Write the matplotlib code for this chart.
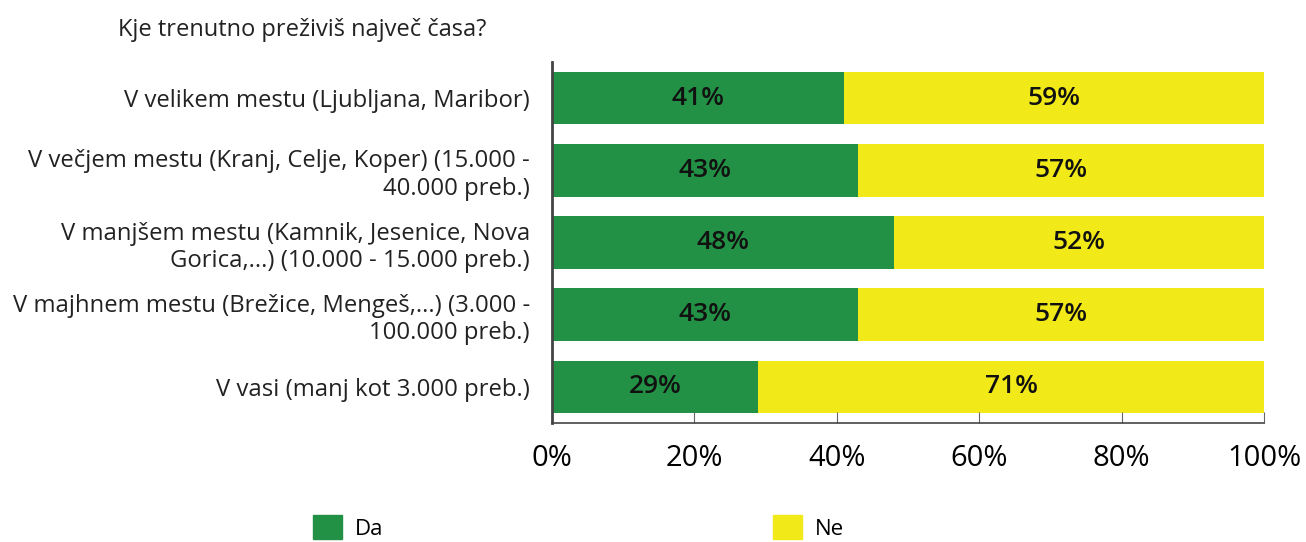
import matplotlib
matplotlib.use("Agg")
import matplotlib.pyplot as plt
from matplotlib.patches import Patch

plt.rcParams['font.family'] = ['Open Sans', 'DejaVu Sans']

# data
categories = [
    "V velikem mestu (Ljubljana, Maribor)",
    "V večjem mestu (Kranj, Celje, Koper) (15.000 -\n40.000 preb.)",
    "V manjšem mestu (Kamnik, Jesenice, Nova\nGorica,...) (10.000 - 15.000 preb.)",
    "V majhnem mestu (Brežice, Mengeš,...) (3.000 -\n100.000 preb.)",
    "V vasi (manj kot 3.000 preb.)",
]
da = [41, 43, 48, 43, 29]
ne = [59, 57, 52, 57, 71]
series_names = ["Da", "Ne"]
title = "Kje trenutno preživiš največ časa?"

green = "#239145"
yellow = "#F2EA18"

fig = plt.figure(figsize=(13.06, 5.42), dpi=100)
ax = fig.add_axes([552/1306, 1-423/542, (1264-552)/1306, (423-62)/542])

y = list(range(len(categories)))
ax.barh(y, da, height=0.73, color=green)
ax.barh(y, ne, left=da, height=0.73, color=yellow)

for i in y:
    ax.text(da[i]/2, i, f"{da[i]}%", ha='center', va='center',
            fontsize=19, fontweight='semibold', color='#111111')
    ax.text(da[i] + ne[i]/2, i, f"{ne[i]}%", ha='center', va='center',
            fontsize=19, fontweight='semibold', color='#111111')

ax.set_xlim(0, 100)
ax.set_ylim(len(categories)-0.5, -0.5)
ax.set_yticks(y)
ax.set_yticklabels(categories, fontsize=17.2, color='#222222')
ax.tick_params(axis='y', length=0, pad=16)
ax.set_xticks([0, 20, 40, 60, 80, 100])
ax.set_xticklabels(["0%", "20%", "40%", "60%", "80%", "100%"], fontsize=21)
ax.tick_params(axis='x', direction='in', length=8, color='#666666', pad=15)

ax.spines['top'].set_visible(False)
ax.spines['right'].set_visible(False)
ax.spines['left'].set_color('#444444')
ax.spines['left'].set_linewidth(2)
ax.spines['bottom'].set_color('#444444')
ax.spines['bottom'].set_linewidth(1.2)

fig.text(118/1306, 1-30/542, title, fontsize=17, va='center', ha='left', color='#222222')

handles = [Patch(color=green, label=series_names[0]), Patch(color=yellow, label=series_names[1])]
fig.legend(handles=handles, loc='upper left', bbox_to_anchor=(293/1306, 1-495/542),
           ncol=2, frameon=False, fontsize=16, handlelength=1.3, handleheight=1.3,
           columnspacing=17.5, handletextpad=0.6)

fig.savefig("out.png", dpi=100)
